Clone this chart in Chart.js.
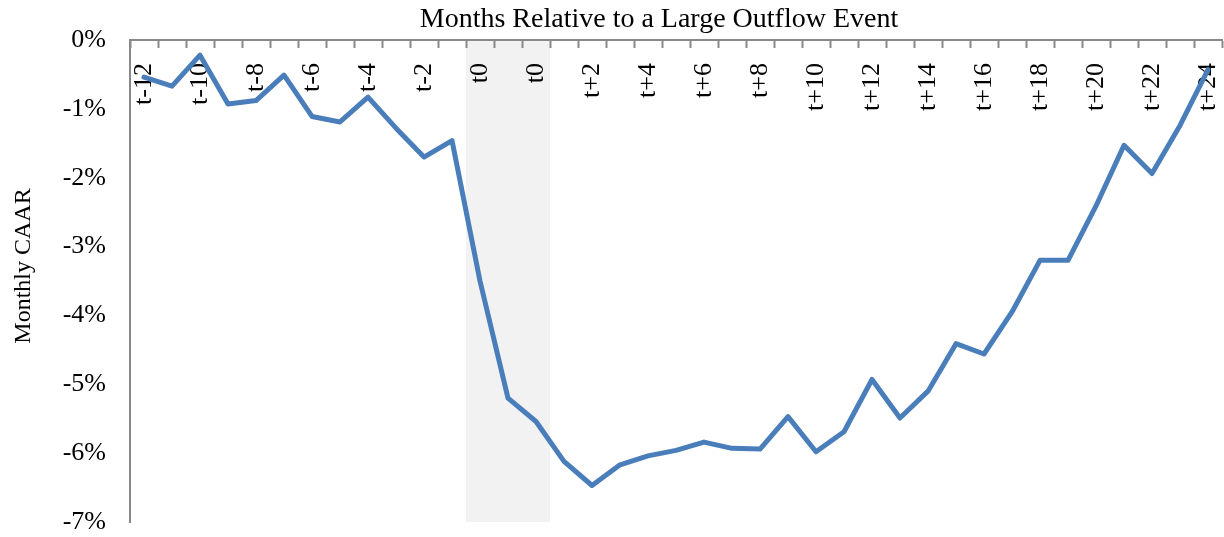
<!DOCTYPE html>
<html>
<head>
    <meta charset="UTF-8">
    <title>Monthly CAAR</title>
    <script src="https://cdn.jsdelivr.net/npm/chart.js"></script>
    <style>
        html, body { margin: 0; padding: 0; background: #fff; }
        #wrap { width: 1224px; height: 537px; }
    </style>
</head>
<body>
    <div id="wrap"><canvas id="caarChart"></canvas></div>

    <script>
        // months around the event, three t0 months in the event window
        const months = [
            't-12', 't-11', 't-10', 't-9', 't-8', 't-7', 't-6', 't-5', 't-4', 't-3', 't-2', 't-1',
            't0', 't0', 't0',
            't+1', 't+2', 't+3', 't+4', 't+5', 't+6', 't+7', 't+8', 't+9', 't+10', 't+11', 't+12',
            't+13', 't+14', 't+15', 't+16', 't+17', 't+18', 't+19', 't+20', 't+21', 't+22', 't+23', 't+24'
        ];

        // cumulative average abnormal return, in percent
        const caar = [
            -0.54, -0.67, -0.22, -0.93, -0.88, -0.51, -1.11, -1.19, -0.83, -1.28, -1.70, -1.46,
            -3.50, -5.20, -5.54,
            -6.12, -6.47, -6.17, -6.04, -5.96, -5.84, -5.93, -5.94, -5.47, -5.98, -5.69, -4.93,
            -5.49, -5.10, -4.41, -4.56, -3.95, -3.20, -3.20, -2.41, -1.53, -1.94, -1.24, -0.43
        ];

        // months covered by the grey event window
        const eventWindow = ['t0'];

        const yTicks = [0, -1, -2, -3, -4, -5, -6, -7];

        const serif = '"Liberation Serif", "Times New Roman", serif';
        const axisGrey = '#898989';

        // grey band behind the event months, placed with the x scale
        const eventBand = {
            id: 'eventBand',
            beforeDraw(chart) {
                const x = chart.scales.x;
                const area = chart.chartArea;
                const idx = months.map((m, i) => eventWindow.includes(m) ? i : -1).filter(i => i >= 0);
                if (!idx.length) return;
                const half = (x.getPixelForValue(1) - x.getPixelForValue(0)) / 2;
                const left = x.getPixelForValue(idx[0]) - half;
                const right = x.getPixelForValue(idx[idx.length - 1]) + half;
                const ctx = chart.ctx;
                ctx.save();
                ctx.fillStyle = '#f2f2f2';
                ctx.fillRect(left, area.top, right - left, area.bottom - area.top);
                ctx.restore();
            }
        };

        // titles drawn as plain text
        const titlesPlugin = {
            id: 'titles',
            afterDraw(chart) {
                const ctx = chart.ctx;
                ctx.save();
                ctx.fillStyle = '#000';
                ctx.font = '28px ' + serif;
                ctx.textAlign = 'center';
                ctx.textBaseline = 'alphabetic';
                ctx.fillText('Months Relative to a Large Outflow Event', 659, 27);

                ctx.translate(24, 266);
                ctx.rotate(-Math.PI / 2);
                ctx.font = '24px ' + serif;
                ctx.textBaseline = 'middle';
                ctx.fillText('Monthly CAAR', 0, 0);
                ctx.restore();
            }
        };

        const ctx = document.getElementById('caarChart').getContext('2d');
        new Chart(ctx, {
            type: 'line',
            data: {
                labels: months,
                datasets: [{
                    data: caar,
                    borderColor: '#4a7ebb',
                    borderWidth: 5,
                    borderJoinStyle: 'round',
                    borderCapStyle: 'round',
                    pointRadius: 0,
                    tension: 0
                }]
            },
            options: {
                responsive: true,
                maintainAspectRatio: false,
                animation: false,
                layout: {
                    padding: { top: 40, right: 2, bottom: 15, left: 0 }
                },
                plugins: {
                    legend: { display: false },
                    tooltip: { enabled: false }
                },
                scales: {
                    x: {
                        type: 'category',
                        position: { y: 0 },
                        offset: true,
                        afterFit: s => {
                            s.height = 0;
                            s.paddingLeft = 0;
                            s.paddingRight = 0;
                        },
                        grid: {
                            offset: true,
                            drawOnChartArea: false,
                            drawTicks: true,
                            tickLength: 7,
                            tickWidth: 2,
                            tickColor: axisGrey
                        },
                        border: { color: axisGrey, width: 2 },
                        ticks: {
                            autoSkip: false,
                            minRotation: 90,
                            maxRotation: 90,
                            padding: 16,
                            color: '#000',
                            font: { family: serif, size: 26 },
                            callback: (v, i) => i % 2 === 0 ? months[i] : ''
                        }
                    },
                    y: {
                        min: -7,
                        max: 0,
                        afterFit: s => {
                            s.width = 130;
                            s.paddingTop = 0;
                            s.paddingBottom = 0;
                        },
                        afterBuildTicks: s => { s.ticks = yTicks.map(v => ({ value: v })); },
                        grid: { display: true, drawOnChartArea: false, drawTicks: false },
                        border: { color: axisGrey, width: 2 },
                        ticks: {
                            padding: 24,
                            color: '#000',
                            font: { family: serif, size: 26 },
                            callback: v => v + '%'
                        }
                    }
                }
            },
            plugins: [eventBand, titlesPlugin]
        });
    </script>
</body>
</html>
